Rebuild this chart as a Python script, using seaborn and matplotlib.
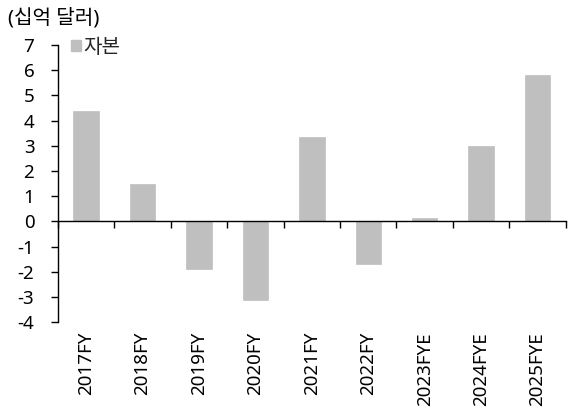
import matplotlib
matplotlib.use("Agg")
import matplotlib.pyplot as plt
import seaborn as sns
import pandas as pd

# Equity by fiscal year, in billions of dollars
years = ["2017FY", "2018FY", "2019FY", "2020FY", "2021FY",
         "2022FY", "2023FYE", "2024FYE", "2025FYE"]
equity = [4.39, 1.50, -1.88, -3.12, 3.34, -1.71, 0.12, 2.99, 5.80]
series_name = "자본"
unit_label = "(십억 달러)"
y_ticks = list(range(-4, 8))

sns.set_theme(style="white")
plt.rcParams["font.family"] = ["Noto Sans", "Noto Sans CJK KR", "DejaVu Sans"]

FS = 13.5
FS_KR = 14.5

df = pd.DataFrame({"year": years, "value": equity})

fig = plt.figure(figsize=(5.68, 4.12), dpi=100)
ax = fig.add_axes([0.102, 0.218, 0.894, 0.673])

bar_color = "#bfbfbf"
sns.barplot(data=df, x="year", y="value", color=bar_color, width=0.45,
            saturation=1, edgecolor=bar_color, linewidth=0.5, ax=ax)

ax.set_xlim(-0.5, len(years) - 0.5)
ax.set_ylim(-4, 7)
ax.set_yticks(y_ticks)
ax.set_yticklabels([str(v) for v in y_ticks])
ax.set_xlabel("")
ax.set_ylabel("")

for side in ("top", "right"):
    ax.spines[side].set_visible(False)
ax.spines["left"].set_color("black")
ax.spines["left"].set_linewidth(1.0)
ax.spines["bottom"].set_position(("data", 0))
ax.spines["bottom"].set_color("black")
ax.spines["bottom"].set_linewidth(1.0)

ax.tick_params(axis="y", direction="out", length=5, width=1, color="black",
               pad=12, labelsize=FS, labelcolor="black", left=True)

# Category boundary marks on the zero line; labels sit below the plot
ax.set_xticks([i - 0.5 for i in range(len(years) + 1)], minor=True)
ax.tick_params(axis="x", which="minor", direction="out", length=5, width=1,
               color="black", bottom=True)
ax.tick_params(axis="x", which="major", length=0, labelbottom=False)

sec = ax.secondary_xaxis("bottom")
sec.set_xticks(range(len(years)))
sec.set_xticklabels(years, rotation=90, fontsize=FS, color="black")
sec.tick_params(length=0, pad=7)
sec.spines["bottom"].set_visible(False)

# Unit label and legend
fig.text(0.014, 0.955, unit_label, fontsize=FS_KR, color="black",
         ha="left", va="center")
ax.legend(handles=[plt.Rectangle((0, 0), 1, 1, color=bar_color)],
          labels=[series_name], loc="upper left",
          bbox_to_anchor=(0.01, 1.055), frameon=False, fontsize=FS_KR,
          handlelength=0.5, handleheight=0.5, handletextpad=0.1,
          borderaxespad=0)

fig.savefig("out.png", dpi=100, facecolor="white")
